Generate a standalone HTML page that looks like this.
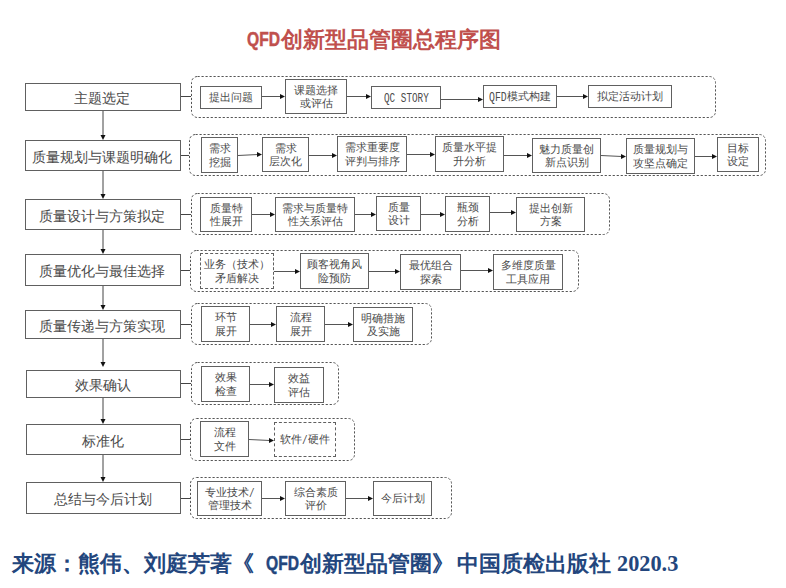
<!DOCTYPE html>
<html><head><meta charset="utf-8"><style>
html,body{margin:0;padding:0;background:#fff;}
body{width:786px;height:588px;position:relative;overflow:hidden;font-family:"Liberation Serif",serif;color:#222;}
.b{position:absolute;box-sizing:border-box;border:1px solid #606060;display:flex;align-items:center;justify-content:center;text-align:center;background:#fff;}
.L{font-size:14px;line-height:16px;color:#4a4a4a;padding-top:4px;padding-right:2px;}
.i{font-size:11px;line-height:13.5px;color:#4a4a4a;padding-top:1px;}
.d{border:1px dashed #606060;}
.m{display:inline-block;font-family:"Liberation Mono",monospace;font-size:13px;white-space:pre;text-align:left;vertical-align:top;position:relative;top:1px;}
.m > span{display:inline-block;transform:scaleX(var(--sx));transform-origin:0 0;}
.title{position:absolute;left:247px;top:27px;font-family:"Liberation Sans",sans-serif;font-weight:bold;font-size:22.3px;color:#c0504d;line-height:26px;white-space:nowrap;}
.title span,.foot span{display:inline-block;vertical-align:top;}
.q1,.q2{font-size:20px;transform:scaleX(0.78);transform-origin:0 50%;width:34px;-webkit-text-stroke:0.5px currentColor;position:relative;top:-1px;}
.foot{position:absolute;left:12px;top:551px;font-family:"Liberation Sans",sans-serif;font-weight:bold;font-size:22.3px;color:#23467d;line-height:26px;white-space:nowrap;}
.foot .q2{margin-left:12px;}
.yr{font-family:"Liberation Serif",serif;margin-left:6px;}
svg{position:absolute;left:0;top:0;}
</style></head><body>
<div class="title"><span class="q1">QFD</span><span>创新型品管圈总程序图</span></div>

<svg width="786" height="588" viewBox="0 0 786 588">
<rect x="191.5" y="76.5" width="524" height="41" rx="6" ry="6" fill="none" stroke="#555" stroke-width="1" stroke-dasharray="2.2,1.8"/>
<rect x="189.5" y="134.5" width="576" height="41" rx="6" ry="6" fill="none" stroke="#555" stroke-width="1" stroke-dasharray="2.2,1.8"/>
<rect x="191.5" y="193.5" width="418" height="41" rx="6" ry="6" fill="none" stroke="#555" stroke-width="1" stroke-dasharray="2.2,1.8"/>
<rect x="190.5" y="250.5" width="388" height="41" rx="6" ry="6" fill="none" stroke="#555" stroke-width="1" stroke-dasharray="2.2,1.8"/>
<rect x="191.5" y="303.5" width="240" height="41" rx="6" ry="6" fill="none" stroke="#555" stroke-width="1" stroke-dasharray="2.2,1.8"/>
<rect x="191.5" y="362.5" width="147" height="42" rx="6" ry="6" fill="none" stroke="#555" stroke-width="1" stroke-dasharray="2.2,1.8"/>
<rect x="190.5" y="418.5" width="164" height="42" rx="6" ry="6" fill="none" stroke="#555" stroke-width="1" stroke-dasharray="2.2,1.8"/>
<rect x="190.5" y="477.5" width="261" height="41" rx="6" ry="6" fill="none" stroke="#555" stroke-width="1" stroke-dasharray="2.2,1.8"/>
<line x1="103" y1="111" x2="103" y2="136" stroke="#444" stroke-width="1"/>
<path d="M103,140 L100.5,135 L105.5,135 z" fill="#111"/>
<line x1="103" y1="171" x2="103" y2="195" stroke="#444" stroke-width="1"/>
<path d="M103,199 L100.5,194 L105.5,194 z" fill="#111"/>
<line x1="103" y1="230" x2="103" y2="250" stroke="#444" stroke-width="1"/>
<path d="M103,254 L100.5,249 L105.5,249 z" fill="#111"/>
<line x1="103" y1="286" x2="103" y2="306" stroke="#444" stroke-width="1"/>
<path d="M103,310 L100.5,305 L105.5,305 z" fill="#111"/>
<line x1="103" y1="339" x2="103" y2="363" stroke="#444" stroke-width="1"/>
<path d="M103,367 L100.5,362 L105.5,362 z" fill="#111"/>
<line x1="103" y1="398" x2="103" y2="420" stroke="#444" stroke-width="1"/>
<path d="M103,424 L100.5,419 L105.5,419 z" fill="#111"/>
<line x1="103" y1="455" x2="103" y2="478" stroke="#444" stroke-width="1"/>
<path d="M103,482 L100.5,477 L105.5,477 z" fill="#111"/>
<line x1="181" y1="96.5" x2="191" y2="96.5" stroke="#444" stroke-width="1"/>
<line x1="181" y1="155.5" x2="189" y2="155.5" stroke="#444" stroke-width="1"/>
<line x1="181" y1="214.5" x2="191" y2="214.5" stroke="#444" stroke-width="1"/>
<line x1="181" y1="270.5" x2="190" y2="270.5" stroke="#444" stroke-width="1"/>
<line x1="181" y1="324.5" x2="191" y2="324.5" stroke="#444" stroke-width="1"/>
<line x1="181" y1="383.5" x2="191" y2="383.5" stroke="#444" stroke-width="1"/>
<line x1="181" y1="439.5" x2="190" y2="439.5" stroke="#444" stroke-width="1"/>
<line x1="181" y1="498.5" x2="190" y2="498.5" stroke="#444" stroke-width="1"/>
<line x1="262" y1="96.5" x2="281" y2="96.5" stroke="#555" stroke-width="1"/>
<path d="M285,96.5 L280,94.0 L280,99.0 z" fill="#111"/>
<line x1="347" y1="96.5" x2="367" y2="96.5" stroke="#555" stroke-width="1"/>
<path d="M371,96.5 L366,94.0 L366,99.0 z" fill="#111"/>
<line x1="441" y1="99.5" x2="479" y2="99.5" stroke="#555" stroke-width="1"/>
<path d="M483,99.5 L478,97.0 L478,102.0 z" fill="#111"/>
<line x1="557" y1="96.5" x2="584" y2="96.5" stroke="#555" stroke-width="1"/>
<path d="M588,96.5 L583,94.0 L583,99.0 z" fill="#111"/>
<line x1="238" y1="155.5" x2="258" y2="154.5" stroke="#555" stroke-width="1"/>
<path d="M262,154.5 L257,152.0 L257,157.0 z" fill="#111"/>
<line x1="309" y1="155.5" x2="333" y2="155.5" stroke="#555" stroke-width="1"/>
<path d="M337,155.5 L332,153.0 L332,158.0 z" fill="#111"/>
<line x1="407" y1="154.5" x2="431" y2="154.5" stroke="#555" stroke-width="1"/>
<path d="M435,154.5 L430,152.0 L430,157.0 z" fill="#111"/>
<line x1="504" y1="155.5" x2="528" y2="155.5" stroke="#555" stroke-width="1"/>
<path d="M532,155.5 L527,153.0 L527,158.0 z" fill="#111"/>
<line x1="601" y1="155.5" x2="622" y2="156.5" stroke="#555" stroke-width="1"/>
<path d="M626,156.5 L621,154.0 L621,159.0 z" fill="#111"/>
<line x1="695" y1="156.5" x2="713" y2="156.5" stroke="#555" stroke-width="1"/>
<path d="M717,156.5 L712,154.0 L712,159.0 z" fill="#111"/>
<line x1="252" y1="214.5" x2="271" y2="214.5" stroke="#555" stroke-width="1"/>
<path d="M275,214.5 L270,212.0 L270,217.0 z" fill="#111"/>
<line x1="355" y1="214.5" x2="372" y2="214.5" stroke="#555" stroke-width="1"/>
<path d="M376,214.5 L371,212.0 L371,217.0 z" fill="#111"/>
<line x1="421" y1="214.5" x2="441" y2="214.5" stroke="#555" stroke-width="1"/>
<path d="M445,214.5 L440,212.0 L440,217.0 z" fill="#111"/>
<line x1="490" y1="212.5" x2="512" y2="212.5" stroke="#555" stroke-width="1"/>
<path d="M516,212.5 L511,210.0 L511,215.0 z" fill="#111"/>
<line x1="274" y1="271.5" x2="296" y2="271.5" stroke="#555" stroke-width="1"/>
<path d="M300,271.5 L295,269.0 L295,274.0 z" fill="#111"/>
<line x1="369" y1="271.5" x2="396" y2="271.5" stroke="#555" stroke-width="1"/>
<path d="M400,271.5 L395,269.0 L395,274.0 z" fill="#111"/>
<line x1="461" y1="270.5" x2="489" y2="270.5" stroke="#555" stroke-width="1"/>
<path d="M493,270.5 L488,268.0 L488,273.0 z" fill="#111"/>
<line x1="250" y1="324.5" x2="272" y2="324.5" stroke="#555" stroke-width="1"/>
<path d="M276,324.5 L271,322.0 L271,327.0 z" fill="#111"/>
<line x1="325" y1="324.5" x2="349" y2="324.5" stroke="#555" stroke-width="1"/>
<path d="M353,324.5 L348,322.0 L348,327.0 z" fill="#111"/>
<line x1="250" y1="384.5" x2="270" y2="384.5" stroke="#555" stroke-width="1"/>
<path d="M274,384.5 L269,382.0 L269,387.0 z" fill="#111"/>
<line x1="249" y1="439.5" x2="270" y2="440.5" stroke="#555" stroke-width="1"/>
<path d="M274,440.5 L269,438.0 L269,443.0 z" fill="#111"/>
<line x1="262" y1="498.5" x2="281" y2="498.5" stroke="#555" stroke-width="1"/>
<path d="M285,498.5 L280,496.0 L280,501.0 z" fill="#111"/>
<line x1="346" y1="498.5" x2="369" y2="498.5" stroke="#555" stroke-width="1"/>
<path d="M373,498.5 L368,496.0 L368,501.0 z" fill="#111"/>
</svg>
<div class="b L" style="left:25px;top:83px;width:156px;height:28px"><div>主题选定</div></div>
<div class="b L" style="left:25px;top:140px;width:156px;height:31px"><div>质量规划与课题明确化</div></div>
<div class="b L" style="left:25px;top:199px;width:156px;height:31px"><div>质量设计与方策拟定</div></div>
<div class="b L" style="left:25px;top:254px;width:156px;height:32px"><div>质量优化与最佳选择</div></div>
<div class="b L" style="left:25px;top:310px;width:156px;height:29px"><div>质量传递与方策实现</div></div>
<div class="b L" style="left:26px;top:370px;width:155px;height:28px"><div>效果确认</div></div>
<div class="b L" style="left:26px;top:424px;width:155px;height:31px"><div>标准化</div></div>
<div class="b L" style="left:26px;top:482px;width:155px;height:32px"><div>总结与今后计划</div></div>
<div class="b i" style="left:200px;top:86px;width:62px;height:23px"><div>提出问题</div></div>
<div class="b i" style="left:285px;top:79px;width:62px;height:35px"><div>课题选择<br>或评估</div></div>
<div class="b i" style="left:371px;top:86px;width:70px;height:23px"><div><span class="m" style="width:44.8px;--sx:0.718"><span>QC STORY</span></span></div></div>
<div class="b i" style="left:483px;top:85px;width:74px;height:23px"><div><span class="m" style="width:17.7px;--sx:0.756"><span>QFD</span></span>模式构建</div></div>
<div class="b i" style="left:588px;top:85px;width:84px;height:23px"><div>拟定活动计划</div></div>
<div class="b i" style="left:201px;top:137px;width:37px;height:36px"><div>需求<br>挖掘</div></div>
<div class="b i" style="left:262px;top:137px;width:47px;height:35px"><div>需求<br>层次化</div></div>
<div class="b i" style="left:337px;top:136px;width:70px;height:36px"><div>需求重要度<br>评判与排序</div></div>
<div class="b i" style="left:435px;top:136px;width:69px;height:36px"><div>质量水平提<br>升分析</div></div>
<div class="b i" style="left:532px;top:138px;width:69px;height:35px"><div>魅力质量创<br>新点识别</div></div>
<div class="b i" style="left:626px;top:138px;width:69px;height:36px"><div>质量规划与<br>攻坚点确定</div></div>
<div class="b i" style="left:717px;top:137px;width:42px;height:35px"><div>目标<br>设定</div></div>
<div class="b i" style="left:200px;top:197px;width:52px;height:35px"><div>质量特<br>性展开</div></div>
<div class="b i" style="left:275px;top:197px;width:80px;height:35px"><div>需求与质量特<br>性关系评估</div></div>
<div class="b i" style="left:376px;top:196px;width:45px;height:35px"><div>质量<br>设计</div></div>
<div class="b i" style="left:445px;top:196px;width:45px;height:36px"><div>瓶颈<br>分析</div></div>
<div class="b i" style="left:516px;top:197px;width:69px;height:35px"><div>提出创新<br>方案</div></div>
<div class="b i d" style="left:200px;top:253px;width:74px;height:36px"><div>业务（技术）<br>矛盾解决</div></div>
<div class="b i" style="left:300px;top:253px;width:69px;height:36px"><div>顾客视角风<br>险预防</div></div>
<div class="b i" style="left:400px;top:254px;width:61px;height:36px"><div>最优组合<br>探索</div></div>
<div class="b i" style="left:493px;top:254px;width:70px;height:36px"><div>多维度质量<br>工具应用</div></div>
<div class="b i" style="left:201px;top:306px;width:49px;height:36px"><div>环节<br>展开</div></div>
<div class="b i" style="left:276px;top:306px;width:49px;height:36px"><div>流程<br>展开</div></div>
<div class="b i" style="left:353px;top:307px;width:60px;height:35px"><div>明确措施<br>及实施</div></div>
<div class="b i" style="left:201px;top:366px;width:49px;height:36px"><div>效果<br>检查</div></div>
<div class="b i" style="left:274px;top:367px;width:50px;height:36px"><div>效益<br>评估</div></div>
<div class="b i" style="left:200px;top:421px;width:49px;height:36px"><div>流程<br>文件</div></div>
<div class="b i d" style="left:274px;top:422px;width:62px;height:35px"><div>软件<span class="m" style="width:5.6px;--sx:0.718"><span>/</span></span>硬件</div></div>
<div class="b i" style="left:197px;top:481px;width:65px;height:35px"><div>专业技术<span class="m" style="width:5.6px;--sx:0.718"><span>/</span></span><br>管理技术</div></div>
<div class="b i" style="left:285px;top:481px;width:61px;height:35px"><div>综合素质<br>评价</div></div>
<div class="b i" style="left:373px;top:481px;width:59px;height:35px"><div>今后计划</div></div>
<div class="foot"><span class="cj">来源：熊伟、刘庭芳著《</span><span class="q2">QFD</span><span class="cj">创新型品管圈》</span><span class="cj" style="margin-left:3px">中国质检出版社</span><span class="yr">2020.3</span></div>
</body></html>
